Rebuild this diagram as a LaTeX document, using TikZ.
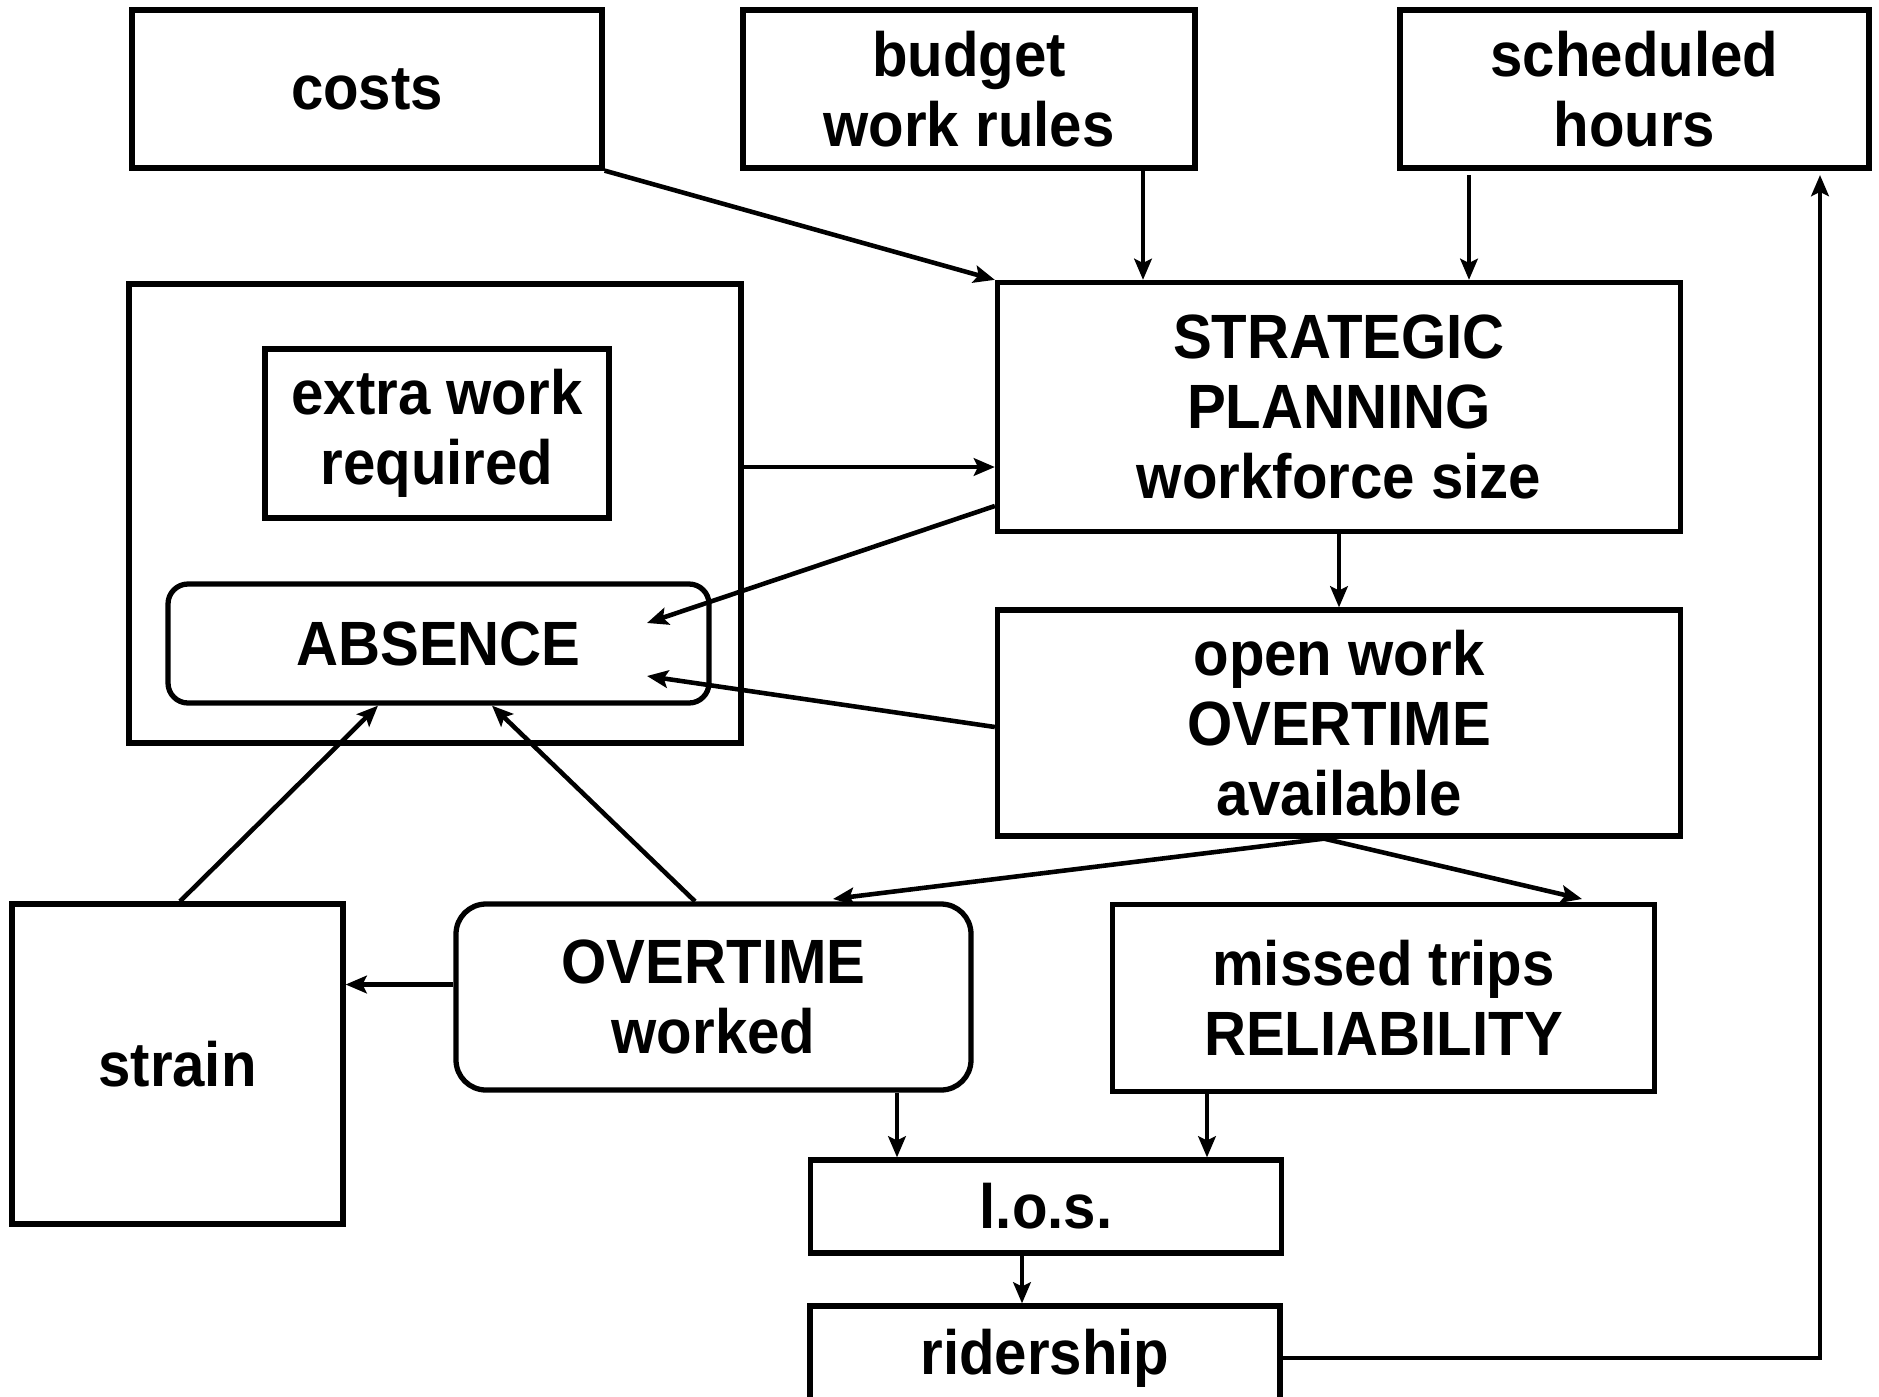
\documentclass[tikz,border=0pt]{standalone}
\usepackage{fontspec}
\setmainfont{Liberation Sans}[FakeStretch=0.93]
\usetikzlibrary{arrows.meta}

\tikzset{
  box/.style={draw, line width=1.5pt, inner sep=0pt, align=center,
    font=\bfseries\fontsize{17.8}{19.9}\selectfont},
  link/.style={-{Stealth[length=6pt,width=5pt,inset=1.2pt]}, line width=1.3pt}
}

\begin{document}
\begin{tikzpicture}
      \useasboundingbox (0,0) rectangle (18.79,-13.97);
      \path
        (3.67,-0.89) node[box, minimum width=4.70cm, minimum height=1.58cm] (costs){costs}
        (9.69,-0.89) node[box, minimum width=4.52cm, minimum height=1.58cm] (budget){budget\\work rules}
        (16.345,-0.89) node[box, minimum width=4.69cm, minimum height=1.58cm] (sched){scheduled\\hours}
        (4.35,-5.135) node[box, minimum width=6.12cm, minimum height=4.59cm] (outer){}
        (4.37,-4.335) node[box, minimum width=3.44cm, minimum height=1.69cm] (extra){extra work\\required}
        (4.385,-6.435) node[box, rounded corners=0.2cm, minimum width=5.41cm, minimum height=1.19cm] (absence){ABSENCE}
        (13.39,-4.07) node[box, minimum width=6.83cm, minimum height=2.49cm] (strat){STRATEGIC\\PLANNING\\workforce size}
        (13.39,-7.23) node[box, minimum width=6.83cm, minimum height=2.26cm] (openwork){open work\\OVERTIME\\available}
        (1.775,-10.64) node[box, minimum width=3.31cm, minimum height=3.20cm] (strain){strain}
        (7.135,-9.97) node[box, rounded corners=0.3cm, minimum width=5.15cm, minimum height=1.86cm] (otworked){OVERTIME\\worked}
        (13.835,-9.98) node[box, minimum width=5.42cm, minimum height=1.87cm] (missed){missed trips\\RELIABILITY}
        (10.46,-12.065) node[box, minimum width=4.71cm, minimum height=0.93cm] (los){l.o.s.}
        (10.45,-13.58) node[box, minimum width=4.70cm, minimum height=1.04cm] (ridership){ridership};
      \coordinate (schedout) at (14.69,-1.75);
      \coordinate (schedin) at (18.20,-1.75);
      \coordinate (absin1) at (6.47,-6.23);
      \coordinate (absin2) at (6.47,-6.76);
      \coordinate (otin) at (8.33,-8.99);
      \coordinate (mtin) at (15.82,-8.99);
      \begin{scope}[link]
        \draw (costs.south east) to (strat.north west);
        \draw (budget.south -| 11.43,0) to (strat.north -| 11.43,0);
        \draw (schedout) to (strat.north -| schedout);
        \draw (outer.east |- 0,-4.67) to (strat.west |- 0,-4.67);
        \draw (strat.west |- 0,-5.06) to (absin1);
        \draw (openwork.west |- 0,-7.27) to (absin2);
        \draw (strat.south) to (openwork.north);
        \draw (openwork.south -| 13.24,0) to (otin);
        \draw (openwork.south -| 13.24,0) to (mtin);
        \draw (strain.north -| 1.80,0) to (absence.south -| 3.78,0);
        \draw (otworked.north -| 6.95,0) to (absence.south -| 4.92,0);
        \draw (otworked.west |- 0,-9.845) to (strain.east |- 0,-9.845);
        \draw (otworked.south -| 8.97,0) to (los.north -| 8.97,0);
        \draw (missed.south -| 12.07,0) to (los.north -| 12.07,0);
        \draw (los.south -| 10.22,0) to (ridership.north -| 10.22,0);
        \draw (ridership.east) -| (schedin);
      \end{scope}
    \end{tikzpicture}
\end{document}
